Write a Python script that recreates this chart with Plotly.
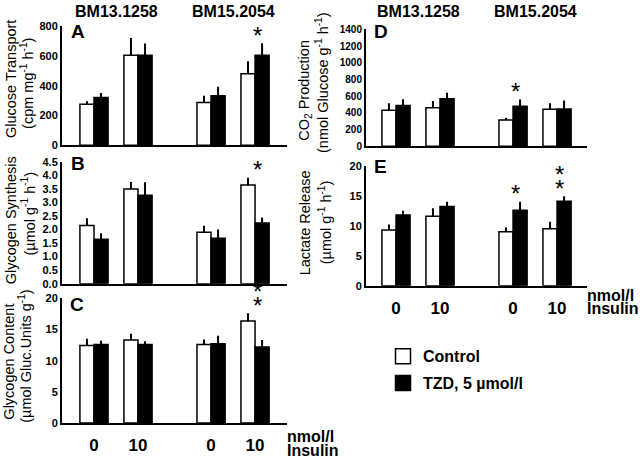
import plotly.graph_objects as go

# ---------------- data ----------------
insulin_labels = ["0", "10", "0", "10"]
strains = ["BM13.1258", "BM15.2054"]
series_names = ["Control", "TZD, 5 µmol/l"]

a_ctrl = [277, 606, 288, 482]
a_ctrl_err = [20, 116, 45, 84]
a_tzd = [322, 606, 333, 606]
a_tzd_err = [30, 79, 61, 81]

b_ctrl = [2.15, 3.50, 1.90, 3.65]
b_ctrl_err = [0.27, 0.26, 0.24, 0.26]
b_tzd = [1.64, 3.27, 1.68, 2.24]
b_tzd_err = [0.22, 0.48, 0.32, 0.21]

c_ctrl = [12.45, 13.3, 12.6, 16.35]
c_ctrl_err = [1.05, 1.0, 0.8, 1.25]
c_tzd = [12.6, 12.6, 12.7, 12.2]
c_tzd_err = [0.6, 0.5, 1.3, 1.1]

d_ctrl = [432, 463, 315, 444]
d_ctrl_err = [85, 78, 27, 73]
d_tzd = [490, 568, 479, 447]
d_tzd_err = [74, 74, 81, 102]

e_ctrl = [9.3, 11.6, 9.0, 9.5]
e_ctrl_err = [0.9, 1.3, 0.7, 1.15]
e_tzd = [11.8, 13.2, 12.6, 14.1]
e_tzd_err = [0.7, 0.8, 1.4, 0.8]

# number of significance stars per panel / group
sig_a = {3: 1}
sig_b = {3: 1}
sig_c = {3: 2}
sig_d = {2: 1}
sig_e = {2: 1, 3: 2}

# ---------------- layout helpers ----------------
W, H = 640, 468
FONT = "Liberation Sans, Arial, sans-serif"
group_pos = [0, 1, 2.66, 3.66]
UNIT = 44.0


def fx(p):
    return p / W


def fy(p):
    return 1 - p / H


panels = [
    dict(name="A", ctrl=a_ctrl, ce=a_ctrl_err, tzd=a_tzd, te=a_tzd_err, sig=sig_a,
         xpx=(62, 287), c0=94, ypx=(143, 21), rng=[0, 800], dtick=200, fmt="", tfs=11,
         xlabels=False, letter=(69, 32),
         t1="Glucose Transport", t2="(cpm mg<sup>-1</sup> h<sup>-1</sup>)",
         t1pos=(11, 75), t2pos=(27, 80)),
    dict(name="B", ctrl=b_ctrl, ce=b_ctrl_err, tzd=b_tzd, te=b_tzd_err, sig=sig_b,
         xpx=(62, 287), c0=94, ypx=(285, 160), rng=[0, 4.5], dtick=0.5, fmt=".1f", tfs=11,
         xlabels=False, letter=(69, 168),
         t1="Glycogen Synthesis", t2="(µmol g<sup>-1</sup> h<sup>-1</sup>)",
         t1pos=(11, 220), t2pos=(28, 213)),
    dict(name="C", ctrl=c_ctrl, ce=c_ctrl_err, tzd=c_tzd, te=c_tzd_err, sig=sig_c,
         xpx=(62, 287), c0=94, ypx=(428, 300), rng=[0, 20], dtick=5, fmt="", tfs=11,
         xlabels=True, letter=(68, 313),
         t1="Glycogen Content", t2="(µmol Gluc.Units g<sup>-1</sup>)",
         t1pos=(9, 365), t2pos=(25, 360)),
    dict(name="D", ctrl=d_ctrl, ce=d_ctrl_err, tzd=d_tzd, te=d_tzd_err, sig=sig_d,
         xpx=(366, 587), c0=396, ypx=(144, 24), rng=[0, 1400], dtick=200, fmt="", tfs=10,
         xlabels=False, letter=(372, 32),
         t1="CO<sub>2</sub> Production", t2="(nmol Glucose g<sup>-1</sup> h<sup>-1</sup>)",
         t1pos=(305, 87), t2pos=(322, 79)),
    dict(name="E", ctrl=e_ctrl, ce=e_ctrl_err, tzd=e_tzd, te=e_tzd_err, sig=sig_e,
         xpx=(366, 587), c0=396, ypx=(287, 164), rng=[0, 20], dtick=5, fmt="", tfs=11,
         xlabels=True, letter=(372, 171),
         t1="Lactate Release", t2="(µmol g<sup>-1</sup> h<sup>-1</sup>)",
         t1pos=(305, 223), t2pos=(325, 222)),
]

fig = go.Figure()
annotations = []
layout_axes = {}

for i, p in enumerate(panels):
    n = i + 1
    xa = "x" if n == 1 else f"x{n}"
    ya = "y" if n == 1 else f"y{n}"
    xkey = "xaxis" if n == 1 else f"xaxis{n}"
    ykey = "yaxis" if n == 1 else f"yaxis{n}"

    fig.add_trace(go.Bar(
        x=group_pos, y=p["ctrl"], xaxis=xa, yaxis=ya, name=series_names[0],
        showlegend=False,
        marker=dict(color="white", line=dict(color="black", width=1.5)),
        error_y=dict(type="data", array=p["ce"], arrayminus=[0] * 4, symmetric=False,
                     color="black", thickness=2, width=0),
    ))
    fig.add_trace(go.Bar(
        x=group_pos, y=p["tzd"], xaxis=xa, yaxis=ya, name=series_names[1],
        showlegend=False,
        marker=dict(color="black", line=dict(color="black", width=1.5)),
        error_y=dict(type="data", array=p["te"], arrayminus=[0] * 4, symmetric=False,
                     color="black", thickness=2, width=0),
    ))

    x0, x1 = p["xpx"]
    rng_x = [(x0 - p["c0"]) / UNIT, (x1 - p["c0"]) / UNIT]
    xaxis = dict(domain=[fx(x0), fx(x1)], range=rng_x, anchor=ya,
                 showline=True, linecolor="black", linewidth=2,
                 showgrid=False, zeroline=False, ticks="",
                 fixedrange=True)
    if p["xlabels"]:
        xaxis.update(tickmode="array", tickvals=group_pos, ticktext=insulin_labels,
                     showticklabels=True, ticklabelstandoff=6,
                     tickfont=dict(family=FONT, size=17, color="black", weight="bold"))
    else:
        xaxis.update(showticklabels=False)
    layout_axes[xkey] = xaxis

    yb, yt = p["ypx"]
    yaxis = dict(domain=[fy(yb), fy(yt)], range=p["rng"], anchor=xa,
                 showline=True, linecolor="black", linewidth=2,
                 showgrid=False, zeroline=False, ticks="",
                 dtick=p["dtick"], tick0=0, tickformat=p["fmt"],
                 tickfont=dict(family=FONT, size=p["tfs"], color="black", weight="bold"),
                 fixedrange=True)
    layout_axes[ykey] = yaxis

    # panel letter
    annotations.append(dict(text=p["name"], xref="paper", yref="paper",
                            x=fx(p["letter"][0]), y=fy(p["letter"][1]),
                            xanchor="left", yanchor="middle", yshift=6, showarrow=False,
                            font=dict(family=FONT, size=19, color="black", weight="bold")))
    # axis titles
    for txt, pos in ((p["t1"], p["t1pos"]), (p["t2"], p["t2pos"])):
        annotations.append(dict(text=txt, xref="paper", yref="paper",
                                x=fx(pos[0]), y=fy(pos[1]), textangle=-90,
                                xanchor="center", yanchor="middle", showarrow=False,
                                font=dict(family=FONT, size=14.5, color="black")))
    # significance stars
    for g, count in p["sig"].items():
        top = max(p["ctrl"][g] + p["ce"][g], p["tzd"][g] + p["te"][g])
        for k in range(count):
            annotations.append(dict(text="*", xref=xa, yref=ya,
                                    x=group_pos[g] + 0.05, y=top,
                                    xanchor="center", yanchor="middle",
                                    yshift=8 + 14 * k, showarrow=False,
                                    font=dict(family=FONT, size=24, color="black")))
    # strain headers above top panels
    if p["name"] in ("A", "D"):
        for s, strain in enumerate(strains):
            annotations.append(dict(text=strain, xref=xa, yref="paper",
                                    x=(group_pos[2 * s] + group_pos[2 * s + 1]) / 2,
                                    y=fy(9), yshift=3, xanchor="center", yanchor="middle",
                                    showarrow=False,
                                    font=dict(family=FONT, size=16, color="black",
                                              weight="bold")))
    # unit labels next to bottom x axes
    if p["xlabels"]:
        yl = 446 if p["name"] == "C" else 301
        for txt, dy in (("nmol/l", 0), ("Insulin", 14)):
            annotations.append(dict(text=txt, xref="paper", yref="paper",
                                    x=fx(x1 - 2), y=fy(yl + dy), yshift=4,
                                    xanchor="left", yanchor="middle", showarrow=False,
                                    font=dict(family=FONT, size=16, color="black",
                                              weight="bold")))

# legend entries (square markers)
fig.add_trace(go.Scatter(x=[None], y=[None], mode="markers", name=series_names[0],
                         legendgroup="c",
                         marker=dict(symbol="square", size=15, color="white",
                                     line=dict(color="black", width=1.5))))
fig.add_trace(go.Scatter(x=[None], y=[None], mode="markers", name=series_names[1],
                         legendgroup="t",
                         marker=dict(symbol="square", size=15, color="black",
                                     line=dict(color="black", width=1.5))))

fig.update_layout(
    width=W, height=H,
    margin=dict(l=0, r=0, t=0, b=0),
    paper_bgcolor="white", plot_bgcolor="white",
    barmode="group", bargap=0.36, bargroupgap=0,
    font=dict(family=FONT, color="black"),
    annotations=annotations,
    showlegend=True,
    legend=dict(x=fx(383), y=fy(342), xanchor="left", yanchor="top",
                bgcolor="rgba(0,0,0,0)", traceorder="grouped", tracegroupgap=3,
                font=dict(family=FONT, size=16, color="black", weight="bold")),
    **layout_axes,
)

fig.write_html("out.html", config={"displayModeBar": False},
               post_script="document.body.style.margin='0';document.body.style.padding='0';")
